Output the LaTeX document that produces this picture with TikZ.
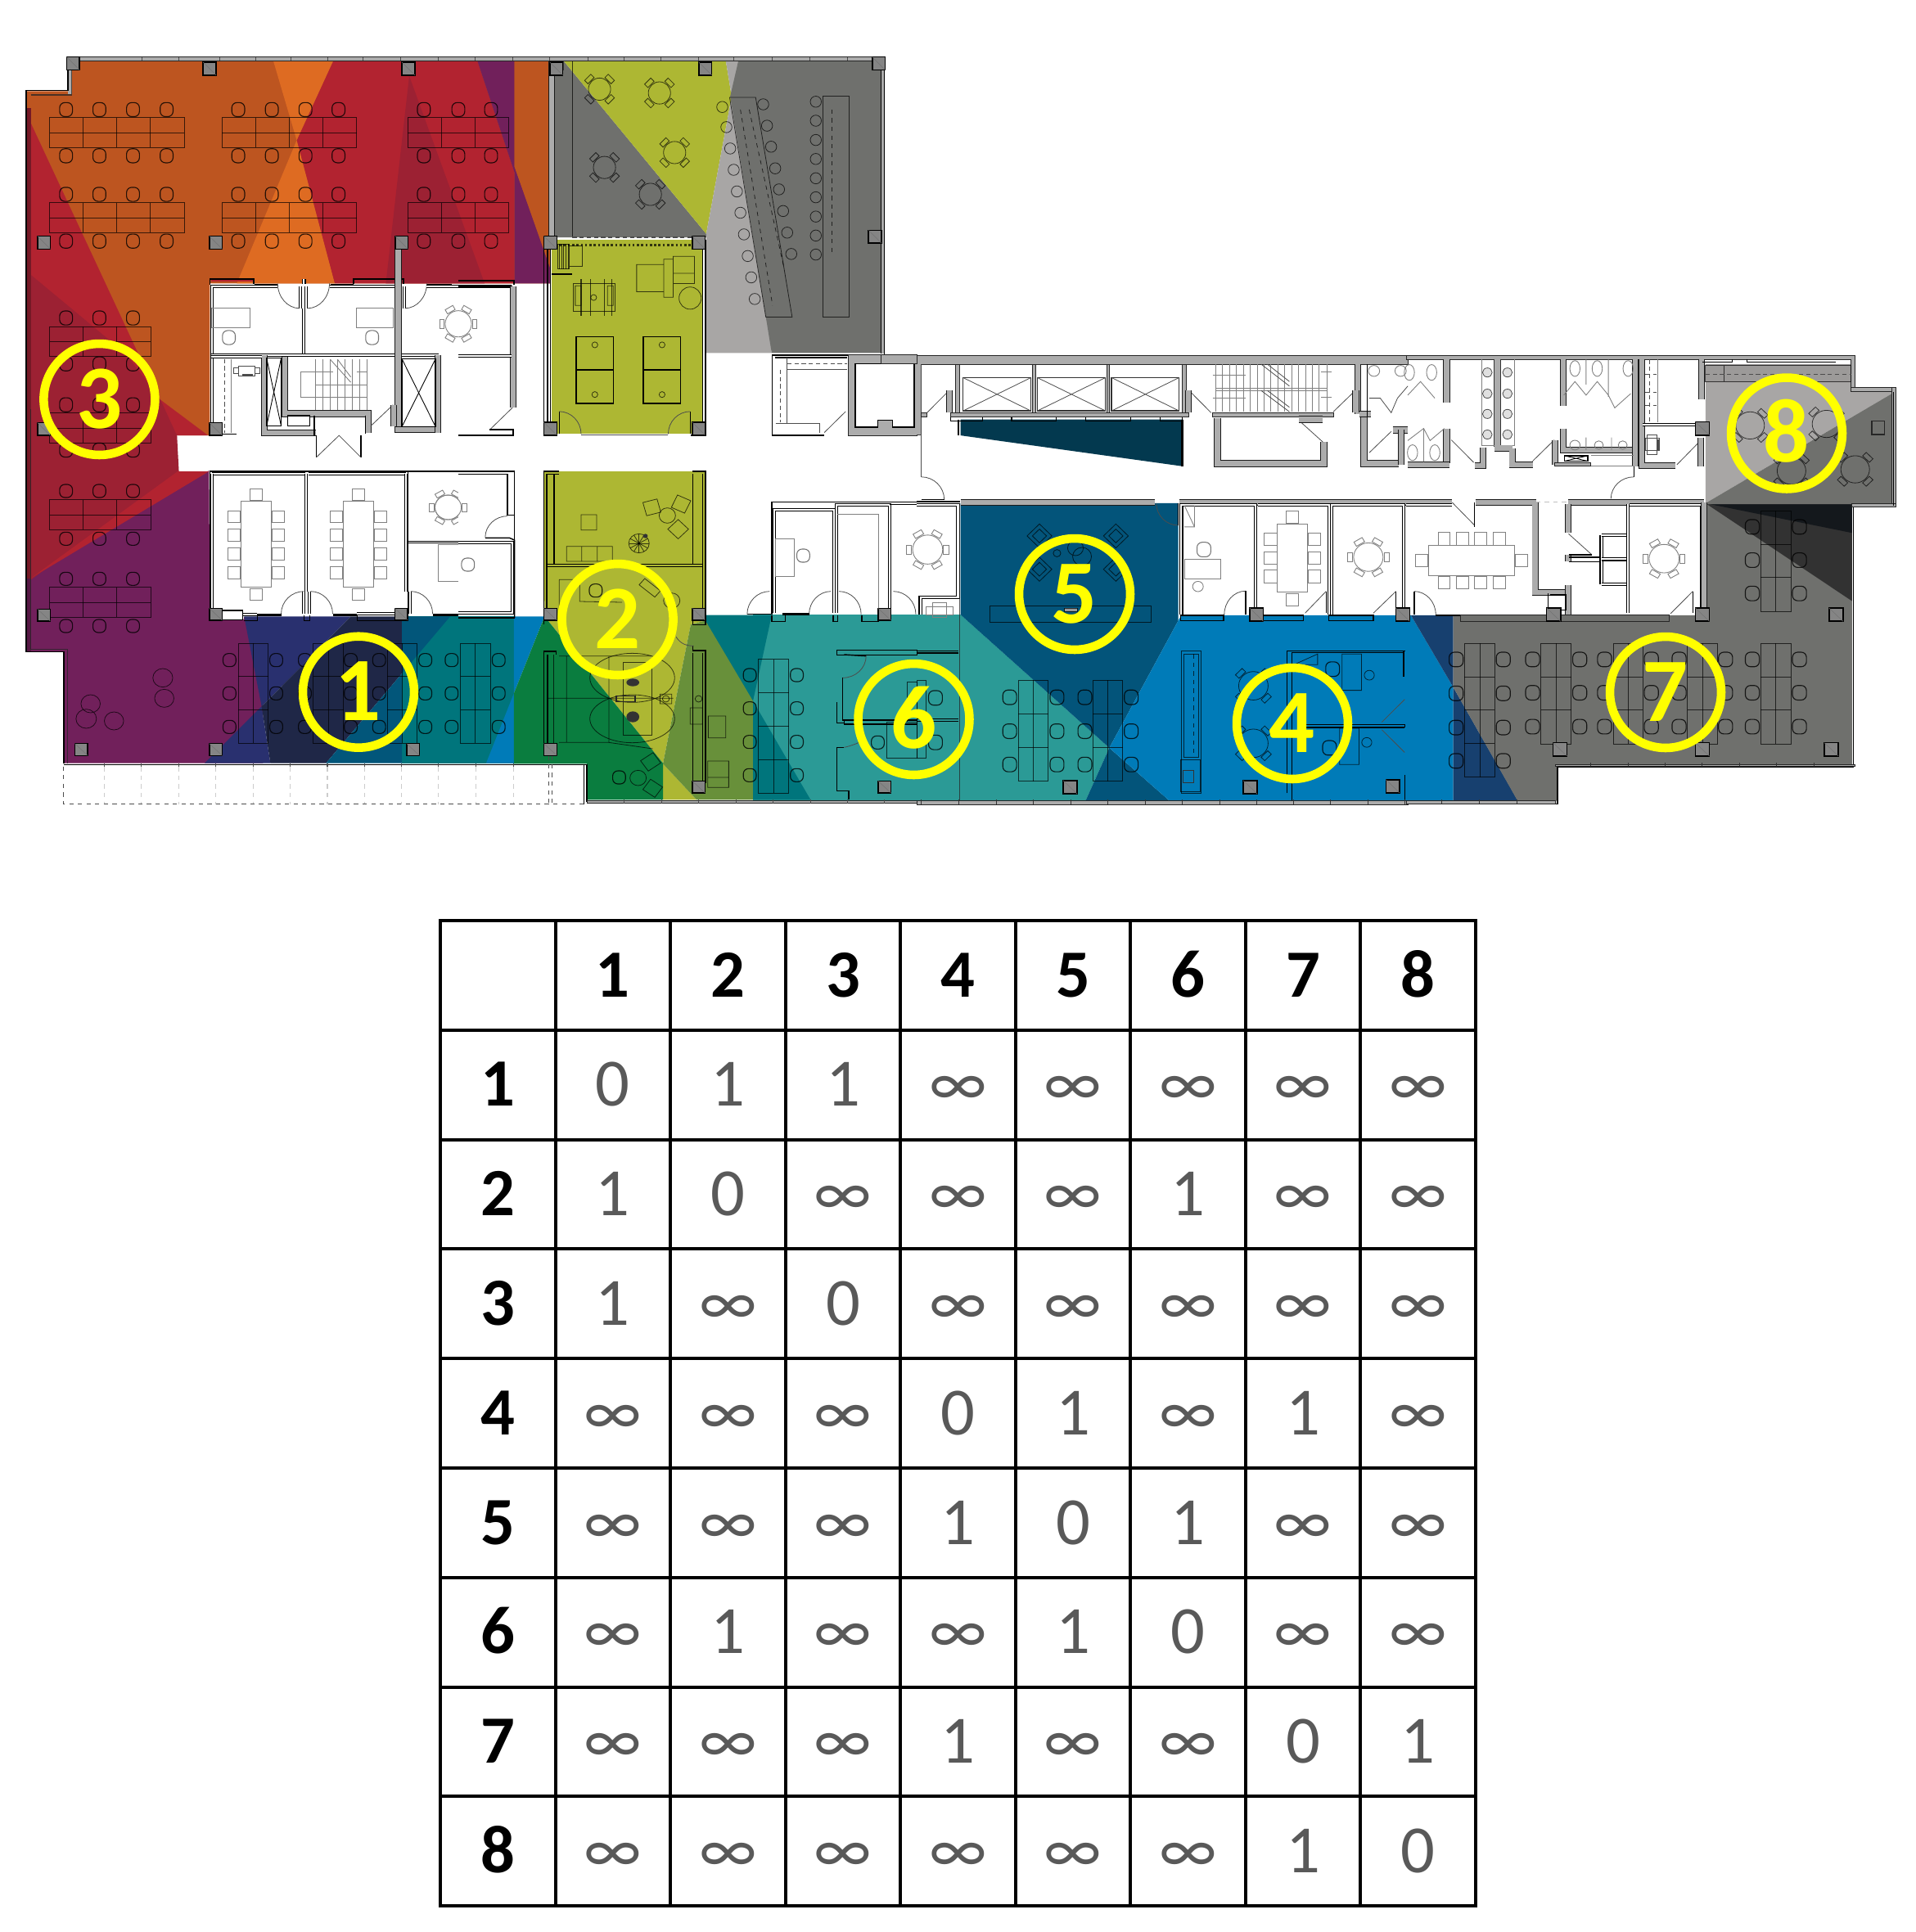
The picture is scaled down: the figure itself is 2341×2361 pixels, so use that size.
\documentclass[tikz,border=0pt]{standalone}
\usepackage{fontspec}
\setmainfont{Carlito}
\usetikzlibrary{calc}
\definecolor{orA}{HTML}{BD5520}\definecolor{orB}{HTML}{DE6B22}
\definecolor{rdA}{HTML}{B22330}\definecolor{rdB}{HTML}{9C2133}
\definecolor{puA}{HTML}{71205B}\definecolor{nvA}{HTML}{29306F}
\definecolor{nvD}{HTML}{1F2747}\definecolor{tbA}{HTML}{02567A}
\definecolor{teA}{HTML}{00757C}\definecolor{blA}{HTML}{007BB8}
\definecolor{grA}{HTML}{0A7D3F}\definecolor{ygA}{HTML}{ADB733}
\definecolor{ogA}{HTML}{68903A}\definecolor{ltA}{HTML}{2B9A96}
\definecolor{dfA}{HTML}{03547A}\definecolor{nvB}{HTML}{17406F}
\definecolor{gyA}{HTML}{6F706D}\definecolor{gyB}{HTML}{A8A6A5}
\definecolor{gyC}{HTML}{9C9A99}\definecolor{dkA}{HTML}{323232}
\definecolor{dkB}{HTML}{14181C}\definecolor{wgA}{HTML}{03394F}
\definecolor{wallg}{HTML}{ACACAC}\definecolor{colg}{HTML}{858585}
\definecolor{valg}{HTML}{595959}\definecolor{ringy}{HTML}{FFFF00}
\tikzset{
 fa/.style={shift={(0,50)},xscale=.35714,yscale=.35714},
 fb/.style={shift={(560,50)},xscale=.35714,yscale=.35714},
 fc/.style={shift={(0,500)},xscale=.35714,yscale=.33333},
 fd/.style={shift={(560,500)},xscale=.35714,yscale=.33333},
 fe/.style={shift={(1120,420)},xscale=.3827,yscale=.36996},
 ff/.style={shift={(1720,420)},xscale=.3891,yscale=.36996},
 ln/.style={draw=black!70,line width=.45pt},
 lgr/.style={draw=black!50,line width=.5pt},
 dkl/.style={draw=black!85,line width=.45pt,draw opacity=.75},
 blk/.style={draw=black,line width=.8pt},
 hv/.style={draw=black,line width=1.4pt},
 dbl/.style={draw=black,line width=.6pt,double=white,double distance=1.2pt},
 gw/.style={draw=black!90,line width=.55pt,double=wallg,double distance=3.6pt},
 wfill/.style={draw=black!85,line width=.55pt,fill=wallg},
 chS/.style={draw=black,draw opacity=.8,line width=.65pt,rounded corners=3.6pt},
 gcS/.style={draw=black!55,line width=.6pt,rounded corners=3.6pt},
 cS/.style={draw=black,line width=.9pt,fill=colg},
 thn/.style={draw=black,draw opacity=.7,line width=.45pt},
 sep/.style={draw=black!70,line width=.4pt,dash pattern=on 3pt off 2pt},
 ring/.style={circle,draw=ringy,line width=6pt,minimum size=2.72cm,inner sep=0pt,text=ringy,
   font=\fontsize{63}{63}\selectfont\bfseries,text height=40pt,text depth=0pt},
 hdcell/.style={inner sep=0pt,text=black,font=\fontsize{47}{47}\selectfont\bfseries,text height=29.8pt,text depth=0pt},
 valcell/.style={inner sep=0pt,text=valg,font=\fontsize{47}{47}\selectfont,text height=29.8pt,text depth=0pt},
 tabl/.style={draw=black,line width=2.3pt,line cap=rect}
}
\newcommand\cln[2]{\draw[cS] (#1-22,#2-22) rectangle (#1+22,#2+22); \draw[black!55,line width=.3pt] (#1-22,#2-22)--(#1+22,#2+22);}
\newcommand\chx[2]{\draw[chS] (#1-22,#2-24) rectangle (#1+22,#2+24);}
\newcommand\gch[2]{\draw[gcS] (#1-22,#2-24) rectangle (#1+22,#2+24);}
\newcommand\sqc[4]{\draw[lgr] (#1,#2) rectangle (#3,#4);}
\newcommand\rtab[5]{\begin{scope}[shift={(#1,#2)}]\draw[#5] (0,0) circle[radius=#3];
  \foreach \aa in {#4}{\draw[#5,rotate=\aa] (#3+3,-15) rectangle (#3+19,15);}\end{scope}}
\newcommand\dr[3]{\draw[ln] (#1) .. controls ($(#1)!.55!(#2)$) and ($(#3)!.55!(#2)$) .. (#3);}
\newcommand\deskg[6]{\draw[thn] (#1,#2) rectangle (#3,#4);
  \foreach \vv in {#5}{\draw[thn] (\vv,#2)--(\vv,#4);}\foreach \hh in {#6}{\draw[thn] (#1,\hh)--(#3,\hh);}}
\begin{document}
\begin{tikzpicture}[x=0.02cm,y=-0.02cm]
\useasboundingbox (0,0) rectangle (2341,2361);
\fill[white] (0,0) rectangle (2341,2361);
% ---------- north-west zone
\begin{scope}[fa]
\fill[orA] (90,172)--(235,172)--(235,68)--(1883,68)--(1883,830)--(718,830)--(718,1350)--(90,1350)--cycle;
\fill[rdA] (1140,68)--(1633,68)--(1760,450)--(1760,830)--(1145,830)--(1015,340)--cycle;
\fill[orB] (935,68)--(1140,68)--(1015,340)--cycle;
\fill[orB] (1015,340)--(1145,830)--(810,830)--cycle;
\fill[rdB] (1400,120)--(1658,830)--(1320,830)--cycle;
\fill[puA] (1633,68)--(1760,68)--(1760,430)--(1883,775)--(1883,830)--(1760,830)--(1760,450)--cycle;
\fill[rdA] (105,280)--(545,1225)--(712,1350)--(605,1350)--(105,1350)--cycle;
\fill[rdB] (105,800)--(430,1070)--(550,1230)--(605,1350)--(605,1470)--(105,1470)--cycle;
\fill[rdB!75!black] (90,230)--(105,230)--(105,1470)--(90,1470)--cycle;
\end{scope}
\begin{scope}[fc]
\fill[puA] (105,615)--(715,225)--(718,770)--(835,770)--(835,762)--(900,762)--(900,1298)--(220,1298)--(220,890)--(90,890)--(90,615)--cycle;
\fill[puA!75!black] (90,610)--(105,610)--(105,890)--(90,890)--cycle;
\fill[rdB] (105,90)--(605,90)--(612,228)--(105,626)--cycle;
\fill[rdB!75!black] (90,90)--(105,90)--(105,620)--(90,620)--cycle;
\fill[rdA] (608,228)--(715,228)--(105,620)--cycle;
\fill[teA] (1375,760)--(1758,760)--(1758,1298)--(1375,1298)--cycle;
\fill[nvA] (835,760)--(1200,760)--(895,1090)--cycle;
\fill[nvA] (895,1090)--(700,1298)--(925,1298)--cycle;
\fill[nvD] (1200,760)--(1375,760)--(1375,969)--(1115,1298)--(925,1298)--(895,1090)--cycle;
\fill[tbA] (1375,760)--(1540,760)--(1375,969)--cycle;
\fill[tbA] (1375,969)--(1115,1298)--(1375,1298)--cycle;
\end{scope}
% ---------- centre zones
\begin{scope}[fb]
\fill[orA] (192,68)--(315,68)--(315,780)--(192,430)--cycle;
\fill[gyA] (330,68)--(360,68)--(848,660)--(848,672)--(330,672)--cycle;
\fill[ygA] (360,68)--(915,68)--(935,190)--(848,660)--cycle;
\fill[gyB] (915,68)--(958,68)--(1072,1068)--(848,1068)--(848,660)--(935,190)--cycle;
\fill[gyA] (958,68)--(1445,68)--(1445,1068)--(1072,1068)--(930,190)--cycle;
\fill[ygA] (320,680)--(838,680)--(838,1345)--(320,1345)--cycle;
\end{scope}
\fill[ltA] (920,751)--(1173.6,751)--(1355.4,913.9)--(1326.7,977.9)--(920,977.9)--cycle;
\begin{scope}[fd]
\fill[ygA] (292,228)--(845,228)--(845,775)--(795,790)--(700,1300)--(815,1432)--(700,1432)--(700,1298)--(295,760)--cycle;
\fill[blA] (190,760)--(295,760)--(190,1042)--cycle;
\fill[blA] (190,1042)--(190,1298)--(95,1298)--cycle;
\fill[grA] (295,760)--(700,1298)--(700,1432)--(440,1432)--(440,1300)--(190,1300)--(190,1042)--cycle;
\fill[teA] (845,755)--(1072,755)--(1008,1070)--(960,1100)--(845,800)--cycle;
\fill[ogA] (845,775)--(1008,1070)--(1008,1432)--(815,1432)--(700,1300)--(795,790)--cycle;
\fill[teA] (1008,1070)--(1205,1432)--(1008,1432)--cycle;
\end{scope}
\begin{scope}[fe]
\fill[dfA] (140,527)--(835,527)--(835,915)--(615,1335)--(140,895)--cycle;
\fill[dfA] (615,1335)--(805,1508)--(540,1508)--cycle;
\fill[blA] (835,915)--(845,897)--(1568,897)--(1568,1508)--(805,1508)--(615,1335)--cycle;
\fill[wgA] (140,250)--(850,250)--(850,405)--(140,303)--cycle;
\end{scope}
\begin{scope}[ff]
\fill[blA] (-5,897)--(10,897)--(143,1135)--(143,1508)--(-5,1508)--cycle;
\fill[nvB] (10,897)--(143,897)--(143,1135)--cycle;
\fill[nvB] (143,1135)--(345,1508)--(143,1508)--cycle;
\fill[gyA] (143,897)--(935,897)--(935,527)--(1395,527)--(1395,1390)--(470,1390)--(470,1510)--(345,1510)--(143,1135)--cycle;
\fill[dkA] (935,527)--(1395,527)--(1395,850)--cycle;
\fill[dkB] (935,527)--(1395,527)--(1395,625)--cycle;
\fill[gyB] (935,68)--(1395,68)--(1395,150)--(1520,150)--(1520,165)--(935,527)--cycle;
\fill[gyC] (935,68)--(1395,68)--(1395,125)--(935,125)--cycle;
\fill[gyA] (935,527)--(1520,165)--(1520,530)--(935,530)--cycle;
\end{scope}
% ---------- crop A details
\begin{scope}[fa]
\draw[wfill] (230,55) rectangle (3026,68);
\foreach \tt in {485,610,750,875,995,1120,1240,1370,1500,1625,1755,1880,2010,2135,2260,2390,2510,2640,2770,2900}{\draw[black!70,line width=.4pt] (\tt,55)--(\tt,68);}
\fill[wallg] (232,68) rectangle (245,182);
\draw[blk] (232,68)--(232,170)--(90,170)--(90,1470);
\draw[dkl,line width=.7pt] (105,185)--(245,185)--(245,70);
\deskg{170}{262}{630}{365}{285,400,514}{315}
\deskg{170}{553}{630}{655}{285,400,514}{605}
\deskg{760}{262}{1220}{365}{875,990,1105}{315}
\deskg{760}{553}{1220}{655}{875,990,1105}{605}
\deskg{1395}{262}{1740}{365}{1510,1625}{315}
\deskg{1395}{553}{1740}{655}{1510,1625}{605}
\deskg{170}{977}{515}{1080}{285,400}{1028}
\deskg{170}{1272}{515}{1375}{285,400}{1325}
\foreach \x in {226,340,455,570,815,930,1045,1158,1450,1568,1680}\foreach \y in {235,393,525,685}{\chx{\x}{\y}}
\foreach \x in {226,340,455}\foreach \y in {948,1105,1245,1400}{\chx{\x}{\y}}
% offices
\fill[white] (720,832) rectangle (1750,1345);
\draw[rdA,line width=1pt] (722,820)--(866,820);
\draw[blk] (718,835)--(718,815)--(868,815)--(868,832);
\draw[hv] (870,834)--(950,834) (1130,834)--(1210,834) (1460,834)--(1545,834);
\draw[blk] (1210,832)--(1210,815)--(1380,815)--(1380,832);
\draw[dbl] (725,1340)--(725,840)--(950,840);
\draw[dbl] (1127,840)--(1350,840);
\draw[dbl] (1038,915)--(1038,1072);
\draw[dbl] (1028,840)--(1028,915);
\draw[dbl] (1048,840)--(1048,915);
\draw[dbl] (1040,815)--(1040,832);
\draw[dbl] (1383,840)--(1383,915);
\dr{950,830}{950,915}{1025,915}
\dr{1127,830}{1127,915}{1052,915}
\dr{1460,830}{1460,915}{1385,915}
\sqc{725}{915}{855}{982}\gch{783}{1015}
\sqc{1218}{915}{1345}{982}\gch{1273}{1015}
\draw[dbl] (722,1075)--(1350,1075);
\draw[gw] (1362,700)--(1362,1340);
\draw[dbl] (1375,1075)--(1500,1075);
\draw[dbl] (1460,840)--(1750,840);
\rtab{1568}{968}{45}{0,60,120,180,240,300}{lgr}
\draw[gw] (905,1075)--(905,1342)--(1080,1342);
\draw[gw] (975,1080)--(975,1275)--(1260,1275)--(1260,1342);
\draw[blk,fill=white] (985,1282) rectangle (1060,1318);
\draw[blk] (1075,1282)--(1075,1350) (1082,1350)--(1082,1425) (1235,1350)--(1235,1425) (1250,1282)--(1250,1345);
\draw[ln] (1082,1425)--(1160,1350)--(1235,1425);
\draw[ln] (1268,1318)--(1345,1245);
\draw[gw] (1347,1245)--(1347,1318);
\draw[blk] (912,1085) rectangle (962,1318);
\draw[blk,line width=.5pt] (912,1085)--(962,1318) (962,1085)--(912,1318);
\foreach \x in {1080,1105,1130,1155,1180,1205,1230,1255}{\draw[lgr] (\x,1090)--(\x,1262);}
\draw[lgr] (1078,1178)--(1258,1178);
\draw[lgr] (1030,1132)--(1140,1132) (1030,1132)--(1030,1218)--(1258,1218) (1220,1132)--(1258,1132);
\draw[lgr] (1130,1090)--(1200,1168) (1155,1090)--(1200,1150);
\draw[dbl] (722,1080)--(897,1080);
\draw[sep] (767,1088)--(767,1340);
\draw[lgr] (790,1088)--(790,1340);
\draw[blk] (762,1345)--(808,1345);
\draw[ln] (815,1112) rectangle (872,1145) (800,1118) rectangle (815,1138) (872,1118) rectangle (888,1138);
\fill[black!70] (830,1140) rectangle (865,1148);
\draw[gw] (1352,1330)--(1498,1330);
\draw[gw] (1498,1075)--(1498,1342);
\draw[blk] (1375,1088) rectangle (1490,1320);
\draw[blk,line width=.5pt] (1375,1088)--(1490,1320) (1490,1088)--(1375,1320);
\cln{250}{77}\cln{717}{95}\cln{1397}{95}\cln{150}{690}\cln{738}{690}\cln{1374}{690}\cln{150}{1328}\cln{738}{1328}
\end{scope}
% ---------- crop B details
\begin{scope}[fb]
\draw[blk] (185,840)--(0,840);
\draw[gw] (188,840)--(188,1255);
\draw[dbl] (0,1078)--(183,1078);
\draw[ln] (108,1330)--(185,1255);
\draw[blk] (105,1330)--(188,1330)--(188,1350)--(0,1350);
\draw[blk] (0,820)--(190,820)--(190,835);
\draw[thn] (390,70)--(390,670);
\draw[dkl] (360,70)--(360,100);
\draw[blk] (292,680)--(292,1350)--(340,1350);
\draw[blk] (305,680)--(305,1340);
\draw[gw] (320,70)--(320,670);
\draw[blk] (315,680)--(315,1345);
\draw[blk] (845,680)--(845,1350)--(795,1350);
\draw[blk] (835,700)--(835,1340);
\draw[blk] (345,1268)--(345,1345) (793,1268)--(793,1345);
\dr{345,1268}{420,1268}{420,1345}
\dr{793,1268}{718,1268}{718,1345}
\draw[ln] (420,1347)--(718,1347);
\draw[sep,line width=.7pt] (390,672)--(845,672);
\draw[thn,dash pattern=on 1.5pt off 1.5pt,line width=1.4pt] (345,698)--(800,698);
\foreach \x in {345,353,361,369,377}{\draw[thn,line width=.6pt] (\x,695)--(\x,780);}
\draw[thn] (340,695) rectangle (380,780) (380,700) rectangle (425,772);
\draw[blk] (320,798)--(390,798);
\deskg{393}{830}{537}{925}{}{}
\foreach \x in {420,452,500,525}{\draw[thn,line width=.6pt] (\x,815)--(\x,940);}
\draw[thn] (400,838) rectangle (420,905) (510,838) rectangle (530,905) (463,878) circle[radius=10];
\draw[blk] (403,1012) rectangle (530,1240) (403,1125)--(530,1125) (633,1012) rectangle (760,1240) (633,1125)--(760,1125);
\foreach \x in {467,697}{\foreach \y in {1040,1210}{\draw[thn] (\x,\y) circle[radius=10];}}
\draw[thn] (610,765) rectangle (703,858) (703,747) rectangle (735,877) (735,737) rectangle (808,795) (735,795) rectangle (808,830) (793,880) circle[radius=38];
\rtab{483}{165}{38}{45,135,225,315}{thn}
\rtab{688}{178}{38}{45,135,225,315}{thn}
\rtab{740}{382}{38}{45,135,225,315}{thn}
\rtab{500}{433}{38}{45,135,225,315}{thn}
\rtab{657}{525}{38}{45,135,225,315}{thn}
\draw[thn] (928,193)--(1017,193)--(1142,945)--(1052,945)--cycle;
\draw[thn,dashed] (965,235)--(1075,905) (995,235)--(1112,767);
\draw[thn] (1247,190) rectangle (1336,945);
\draw[thn,dashed] (1278,235)--(1278,725);
\foreach \x/\y in {903/226,917/295,930/368,942/441,953/515,965/588,977/662,990/736,1002/809,1014/883,1043/217,1056/290,1070/362,1084/436,1097/508,1111/582,1125/656,1139/729,1223/208,1223/273,1223/339,1223/404,1223/470,1223/535,1223/601,1223/666,1223/731}{\draw[thn] (\x,\y) circle[radius=19];}
\draw[blk,line width=.6pt] (1447,70)--(1447,1070) (1458,55)--(1458,1075);
\fill[wallg] (1448,70) rectangle (1457,1070);
% service rooms
\draw[blk] (1073,1350)--(1073,1075)--(1335,1075);
\draw[blk] (1073,1350)--(1252,1350);
\draw[blk] (1083,1083)--(1330,1083);
\draw[ln] (1125,1083)--(1125,1310);
\draw[ln] (1085,1310)--(1235,1310)--(1235,1340);
\draw[sep] (1100,1125)--(1100,1305) (1125,1103)--(1330,1103);
\draw[ln] (1125,1125)--(1330,1125);
\draw[ln] (1252,1340)--(1325,1268);
\draw[wfill] (1335,1075) rectangle (1568,1350);
\draw[blk,fill=white] (1358,1105)--(1560,1105)--(1560,1322)--(1485,1322)--(1485,1298)--(1435,1298)--(1435,1322)--(1358,1322)--cycle;
\draw[wfill] (1445,1075)--(1568,1075)--(1568,1105)--(1445,1105)--cycle;
\cln{335}{95}\cln{845}{95}\cln{1438}{77}\cln{1425}{670}\cln{315}{690}\cln{822}{690}\cln{315}{1327}\cln{822}{1327}
\end{scope}
% ---------- crop C details
\begin{scope}[fc]
\draw[blk] (90,0)--(90,890)--(218,890)--(218,1300);
\draw[dkl,line width=.7pt] (105,0)--(105,880)--(230,880)--(230,1298);
\deskg{170}{332}{515}{442}{285,400}{387}
\deskg{170}{653}{515}{763}{285,400}{708}
\foreach \x in {226,340,455}\foreach \y in {300,475,622,795}{\chx{\x}{\y}}
\draw[thn] (310,1080) circle[radius=33] (295,1135) circle[radius=35] (390,1143) circle[radius=33] (557,985) circle[radius=34] (562,1060) circle[radius=33];
\deskg{815}{858}{917}{1225}{866}{980,1103}
\deskg{1072}{858}{1175}{1225}{1123}{980,1103}
\deskg{1325}{858}{1427}{1225}{1376}{980,1103}
\foreach \x in {785,945,1043,1200,1297,1455,1545}\foreach \y in {920,1042,1165}{\chx{\x}{\y}}
\draw[blk] (718,228)--(1758,228);
\draw[blk] (718,228)--(718,770);
\draw[dbl] (725,238)--(1045,238);
\draw[dbl] (1055,238)--(1388,238);
\draw[dbl] (725,238)--(725,750);
\draw[dbl] (1047,238)--(1047,668);
\draw[dbl] (1389,238)--(1389,668);
\draw[dbl] (1038,668)--(1038,750);
\draw[dbl] (1058,668)--(1058,750);
\draw[dbl] (1402,668)--(1402,750);
\foreach \xx in {825,1175}{
 \draw[lgr] (\xx,338) rectangle (\xx+102,652) (\xx+30,292) rectangle (\xx+72,335) (\xx+30,658) rectangle (\xx+72,700);
 \foreach \y in {372,440,508,577}{\draw[lgr] (\xx-45,\y) rectangle (\xx-3,\y+44) (\xx+105,\y) rectangle (\xx+147,\y+44);}}
\rtab{1533}{360}{45}{0,60,120,180,240,300}{lgr}
\sqc{1498}{495}{1568}{630}
\dr{962,750}{962,668}{1040,668}
\dr{1138,750}{1138,668}{1062,668}
\dr{1480,750}{1480,668}{1405,668}
\draw[hv] (880,754)--(962,754) (1140,754)--(1220,754) (1480,754)--(1568,754);
\draw[dbl] (725,752)--(880,752);
\draw[dbl] (1222,750)--(1350,750);
\draw[blk] (880,755)--(880,775)--(835,775) (1222,755)--(1222,775)--(1350,775) (1040,755)--(1040,775)--(1060,775)--(1060,755);
\draw[blk] (1395,230)--(1395,750) (1395,485)--(1568,485) (1395,490)--(1568,490);
\draw[blk,fill=white] (760,738) rectangle (830,772);
\cln{150}{755}\cln{278}{1248}\cln{738}{1248}\cln{1413}{1248}\cln{738}{752}\cln{1373}{752}
% south edge & balcony
\draw[blk] (218,1303)--(1568,1303);
\foreach \tt in {358,484,612,738,866,992,1120,1247,1374,1500}{\draw[black!70,line width=.6pt] (\tt,1300)--(\tt,1312);\draw[black!20,dashed,line width=.6pt] (\tt,1312)--(\tt,1448);}
\draw[dashed,black!70,line width=.6pt] (218,1310)--(218,1448)--(1568,1448);
\end{scope}
% ---------- crop D details
\begin{scope}[fd]
\deskg{7}{858}{110}{1225}{58}{980,1103}
\foreach \y in {920,1042,1165}{\chx{138}{\y}}
\draw[blk] (0,765)--(192,765)--(192,228)--(0,228);
\fill[white] (0,240) rectangle (190,748);
\draw[blk] (0,238)--(168,238)--(168,388)--(192,388)--(192,228)--(0,228);
\dr{92,470}{92,392}{168,392}
\draw[blk] (92,472)--(175,472)--(192,480)--(192,765);
\draw[dbl] (0,490)--(185,490)--(185,748)--(0,748);
\gch{33}{570}
\rtab{-35}{360}{45}{0}{lgr}
% upper lounge
\draw[blk] (345,228)--(292,228)--(292,790) (345,238)--(302,238)--(302,770)--(328,770);
\draw[blk] (328,238)--(328,568);
\draw[blk] (802,228)--(845,228)--(845,770) (802,238)--(802,568) (835,238)--(835,770) (802,770)--(802,790)--(845,790)--(845,770);
\draw[blk] (302,568)--(835,568) (302,578)--(835,578);
\draw[thn] (370,503) rectangle (527,558) (422,503)--(422,558) (475,503)--(475,558) (420,387) rectangle (473,443) (715,390) circle[radius=28];
\foreach \x/\y/\aa in {662/360/15,762/348/-25,752/440/-45}{\draw[thn,rotate around={\aa:(\x,\y)}] (\x-25,\y-25) rectangle (\x+25,\y+25);}
\draw[thn] (618,492) circle[radius=35];
\foreach \aa in {0,30,...,330}{\draw[thn] (618,492)--+(\aa:34);}
\fill[black!80] (640,465) circle[radius=8];
\draw[thn] (345,625)--(345,770) (345,625)--(415,625) (415,625)--(415,705)--(560,708);
\chx{470}{665}
\draw[thn,rotate around={-40:(655,655)}] (620,640) rectangle (690,670);
\draw[thn] (730,702) circle[radius=28];
% conference / lounge below
\draw[blk] (335,888)--(292,888)--(292,1270)--(335,1270)--(335,1230) (305,900)--(305,1230);
\draw[blk] (335,888)--(335,900);
\draw[blk] (802,868)--(802,885)--(845,885)--(845,1370) (835,895)--(835,1365) (802,895)--(802,1365);
\draw[ln] (745,835) .. controls (760,860) and (780,868) .. (805,868);
\draw[thn] (345,905)--(660,905) (345,1222)--(515,1222)--(665,1245) (370,905)--(370,1220) (515,905)--(515,1220) (305,1060)--(735,1060);
\draw[thn] (595,985) circle[x radius=145,y radius=90] (595,1135) circle[x radius=145,y radius=88];
\draw[thn] (563,928) rectangle (663,1195);
\draw[thn] (325,900)--(325,1230);
\fill[black!80] (597,1002) ellipse[x radius=22,y radius=14] (597,1128) ellipse[x radius=22,y radius=20];
\draw[black!85,line width=.9pt] (540,1052) rectangle (605,1072);
\draw[thn] (690,1045) rectangle (730,1080) (710,1062) circle[radius=12] (822,1062) circle[radius=12] (793,1095) rectangle (835,1155) (855,1125) rectangle (915,1205) (853,1290) rectangle (925,1387) (853,1350)--(925,1350);
\draw[thn] (615,1352) circle[radius=28];
\chx{550}{1350}
\draw[thn,rotate around={35:(658,1293)}] (632,1270) rectangle (684,1316);
\draw[thn,rotate around={-35:(665,1390)}] (640,1367) rectangle (690,1413);
\deskg{1027}{917}{1130}{1408}{1078}{1040,1162,1285}
\foreach \y in {975,1097,1220,1342}{\chx{997}{\y}\chx{1158}{\y}}
% offices north of 6
\draw[blk] (988,752)--(1072,752)--(1072,340)--(1568,340);
\draw[dbl] (1080,748)--(1080,368)--(1285,368)--(1285,748);
\draw[dbl] (1293,748)--(1293,350)--(1475,350)--(1475,748);
\draw[lgr] (1295,385)--(1438,385)--(1438,730);
\draw[blk] (1475,350)--(1568,350);
\sqc{1085}{475}{1150}{612}\gch{1180}{537}
\dr{988,752}{988,668}{1065,668}
\dr{1200,752}{1200,668}{1275,668}
\dr{1378,752}{1378,668}{1302,668}
\dr{1565,752}{1565,668}{1488,668}
\draw[hv] (1110,752)--(1200,752);
\draw[blk] (1072,755)--(1072,778)--(1118,778)--(1118,755) (1282,755)--(1282,778)--(1298,778)--(1298,755) (1380,755)--(1380,778)--(1440,778) (1480,755)--(1480,778);
% room 6 walls
\draw[blk] (1295,885) rectangle (1568,900);
\fill[ltA] (1296,886) rectangle (1567,899);
\draw[blk] (1320,900)--(1395,905);
\dr{1395,905}{1395,985}{1315,985}
\draw[blk] (1315,985)--(1315,1140)--(1568,1140) (1295,1075)--(1295,1150)--(1320,1150)--(1320,1140) (1320,1155)--(1568,1155) (1295,1240)--(1295,1400)--(1335,1400)--(1335,1432) (1320,1240)--(1295,1240);
\dr{1375,1220}{1345,1235}{1320,1240}
\chx{1435}{1222}
\draw[thn] (1465,1148) rectangle (1568,1280) (1535,1000) rectangle (1568,1148);
% south edge
\draw[blk] (0,1303)--(440,1303)--(440,1438)--(1568,1438);
\draw[blk] (430,1303)--(430,1448);
\draw[wfill] (440,1434) rectangle (1568,1444);
\foreach \tt in {568,695,823,950,1077,1205,1332,1458}{\draw[black!70,line width=.6pt] (\tt,1432)--(\tt,1446);}
\foreach \tt in {60,190}{\draw[black!70,line width=.6pt] (\tt,1300)--(\tt,1312);\draw[black!20,dashed,line width=.6pt] (\tt,1312)--(\tt,1448);}
\draw[dashed,black!70,line width=.6pt] (0,1448)--(430,1448);
\draw[black!70,line width=.6pt,dashed] (310,1270)--(310,1448) (320,1270)--(320,1448);
\cln{315}{752}\cln{822}{752}\cln{315}{1248}\cln{822}{1385}\cln{1458}{752}\cln{1458}{1385}
\end{scope}
% ---------- crop E details
\begin{scope}[fe]
\draw[wfill] (0,38) rectangle (1568,68);
\fill[wallg] (0,68) rectangle (15,300);
\draw[black!75,line width=.5pt] (15,68)--(15,300)--(0,300);
\foreach \xl/\xr in {125/138,370/380,607/615,848/862}{\draw[wfill] (\xl,68) rectangle (\xr,232);}
\draw[wfill] (108,228) rectangle (870,243);
\foreach \xl/\xr in {148/365,385/603,622/838}{\draw[black!80,line width=.8pt] (\xl,112) rectangle (\xr,222);\draw[ln] (\xl,112)--(\xr,222) (\xr,112)--(\xl,222);}
\foreach \xl/\xr in {108/210,303/445,540/683,778/848}{\draw[blk] (\xl,243)--(\xl,255)--(\xr,255)--(\xr,243);}
\draw[blk] (133,250)--(133,303);
\draw[hv] (848,250)--(848,405);
\draw[ln] (33,228)--(103,155);
\draw[gw] (104,155)--(104,228);
\draw[wfill] (15,228) rectangle (33,242);
\draw[ln] (15,300)--(15,440);
\dr{15,440}{88,440}{88,515}
\draw[blk] (15,515)--(88,515);
\draw[ln] (870,155)--(940,228);
\draw[gw] (867,155)--(867,228);
\foreach \x in {955,977,999,1021,1043,1065,1087,1109,1131,1153,1175,1197,1219,1241,1263,1285,1310}{\draw[lgr] (\x,68)--(\x,225);}
\draw[lgr] (955,148)--(1310,148) (955,156)--(1310,156);
\draw[lgr] (945,105)--(1050,105) (945,180)--(1050,180) (1290,92)--(1325,92) (1290,178)--(1325,178);
\draw[ln] (1100,68)--(1190,140) (1120,68)--(1190,125) (1100,155)--(1190,225) (1120,155)--(1190,210);
\draw[ln] (1330,225)--(1400,155);
\draw[gw] (1408,68)--(1408,232);
\draw[gw] (1402,155)--(1402,228);
\draw[wfill] (945,228) rectangle (1330,243);
\draw[gw] (960,245)--(960,396)--(1300,396)--(1300,325);
\draw[ln] (1222,255)--(1297,325);
\draw[gw] (1220,250)--(1295,250);
\draw[gw] (1428,240)--(1428,396)--(1540,396);
\draw[ln] (1445,360)--(1515,290);
\draw[gw] (1520,285)--(1568,285);
\draw[gw] (1546,285)--(1546,400);
\draw[gw] (1414,232)--(1450,232);
\draw[ln] (1445,180)--(1480,180)--(1515,228)--(1535,180)--(1568,140);
\draw[lgr] (1460,90) circle[radius=18] (1545,90) circle[radius=18];
% corridor south line
\draw[blk] (0,522)--(138,522);
\draw[gw] (140,525)--(760,525);
\draw[gw] (840,525)--(1568,525);
\draw[dbl] (0,532)--(132,532)--(132,838)--(12,838)--(12,895);
\draw[dkl] (138,530)--(138,1508);
\draw[blk] (835,527)--(835,600);
\dr{765,527}{765,600}{835,600}
\rtab{35}{680}{48}{0,60,120,180,240,300}{lgr}
\draw[lgr] (30,868) rectangle (115,895) (50,855) rectangle (95,905);
\foreach \xx/\yy in {392/635,636/635,392/745,636/745}{\draw[thn,rotate around={45:(\xx,\yy)}] (\xx-28,\yy-28) rectangle (\xx+28,\yy+28) (\xx-16,\yy-16) rectangle (\xx+16,\yy+16);}
\draw[thn] (448,692) circle[radius=12] (507,675) circle[radius=25] (528,703) circle[radius=30];
\draw[thn] (233,867) rectangle (748,920);
\draw[thn,fill=black!40] (472,873) rectangle (512,885);
% rooms
\draw[dbl] (845,895)--(845,532)--(1082,532)--(1082,895);
\draw[dbl] (1090,532)--(1317,532)--(1317,895);
\draw[dbl] (1325,895)--(1325,532)--(1555,532)--(1555,895);
\dr{982,895}{982,817}{1050,817}
\draw[blk] (1050,817)--(1050,895);
\draw[ln] (1240,890)--(1307,818);
\draw[blk] (1307,818)--(1307,890);
\draw[ln] (1458,890)--(1530,818);
\draw[blk] (1530,818)--(1530,890);
\foreach \xl/\xr in {843/980,1105/1235,1315/1458}{\draw[blk,fill=blA] (\xl,897) rectangle (\xr,915);}
\draw[lgr] (855,535)--(887,535)--(887,605)--(855,605) (855,535)--(887,605);
\gch{917}{680}\sqc{855}{712}{970}{777}
\draw[lgr] (898,802) circle[radius=17];
\draw[lgr] (1152,595) rectangle (1247,820) (1180,552) rectangle (1220,592) (1180,825) rectangle (1220,865);
\foreach \y in {625,687,748}{\draw[lgr] (1110,\y) rectangle (1150,\y+42) (1250,\y) rectangle (1290,\y+42);}
\rtab{1442}{705}{47}{0,60,120,180,240,300}{lgr}
% room 4
\draw[thn] (845,1015) rectangle (908,1485) (852,1025) rectangle (900,1365);
\draw[thn,dashed] (885,1025)--(885,1365);
\draw[thn] (843,1375) rectangle (905,1480);
\draw[black!80,line width=.9pt] (850,1410) rectangle (885,1450);
\rtab{1075}{1130}{47}{45,135,225,315}{thn}
\rtab{1075}{1320}{47}{45,135,225,315}{thn}
\draw[blk] (1183,1485)--(1183,1015)--(1560,1015) (1198,1020)--(1558,1020) (1198,1020)--(1198,1508);
\draw[blk] (1555,1015)--(1555,1100);
\draw[ln] (1558,1175)--(1485,1250) (1485,1275)--(1558,1350);
\draw[blk] (1230,1258)--(1558,1258) (1230,1268)--(1558,1268) (1558,1258)--(1558,1268);
\draw[blk] (1558,1425)--(1558,1508);
\draw[thn] (1358,1025) rectangle (1420,1145) (1445,1095) circle[radius=16] (1350,1270) rectangle (1412,1390) (1437,1317) circle[radius=16] (1205,1060)--(1280,1060)--(1280,1025)--(1205,1060);
\chx{1328}{1075}\chx{1318}{1335}
% room 6 / 5 furniture
\draw[blk] (0,1015)--(133,1015) (0,1022)--(133,1022) (0,1240)--(133,1240) (0,1248)--(133,1248);
\chx{60}{1170}\chx{60}{1317}
\draw[thn] (0,1113) rectangle (30,1370);
\deskg{325}{1112}{420}{1445}{373}{1222,1333}
\deskg{563}{1112}{658}{1445}{610}{1222,1333}
\foreach \x in {297,448,537,685}\foreach \y in {1168,1280,1390}{\chx{\x}{\y}}
% south edge
\draw[wfill] (0,1510) rectangle (1568,1522);
\foreach \tt in {15,135,255,372,492,610,730,848,967,1085,1203,1322,1440,1558}{\draw[black!80,line width=.6pt] (\tt,1506)--(\tt,1522);}
\cln{490}{1465}\cln{1065}{1465}\cln{1520}{1462}\cln{1085}{895}\cln{1552}{895}
\draw[blk] (1438,68)--(1438,240);
\end{scope}
% ---------- crop F details
\begin{scope}[ff]
\draw[wfill] (-5,38)--(1405,38)--(1405,145)--(1392,145)--(1392,52)--(-5,52)--cycle;
\draw[wfill] (1392,145) rectangle (1530,157);
\draw[wfill] (1520,145) rectangle (1532,540);
\draw[wfill] (1395,527) rectangle (1532,540);
\draw[blk] (1400,540)--(1400,1397)--(470,1397)--(470,1520)--(-5,1520);
\draw[wfill] (-5,1510) rectangle (465,1520);
\draw[wfill] (465,1390) rectangle (1405,1397);
\foreach \tt in {107,225,342}{\draw[black!80,line width=.6pt] (\tt,1506)--(\tt,1520);}
\foreach \tt in {575,692,808,925,1042,1158,1275}{\draw[black!80,line width=.6pt] (\tt,1385)--(\tt,1397);}
% restrooms
\draw[gw] (122,52)--(122,195);
\draw[gw] (122,280)--(122,395);
\fill[wallg] (272,52) rectangle (292,340);
\draw[black!80,line width=.5pt] (272,52)--(272,340) (292,52)--(292,340);
\draw[lgr] (232,52)--(232,335)--(272,335) (335,52)--(335,335)--(295,335);
\foreach \y in {95,165,232,300}{\draw[ln,fill=black!12] (250,\y) circle[radius=15] (313,\y) circle[radius=15];}
\draw[gw] (236,342)--(236,402)--(210,402);
\draw[gw] (272,345)--(330,345);
\draw[gw] (328,345)--(328,400)--(392,400);
\draw[gw] (0,400)--(130,400);
\draw[ln] (137,318)--(207,392) (392,388)--(460,318);
\draw[gw] (462,318)--(462,400);
\draw[gw] (488,52)--(488,205);
\draw[gw] (488,282)--(488,352)--(715,352);
\draw[gw] (715,52)--(715,405);
\draw[lgr] (525,82) circle[x radius=16,y radius=26] (595,82) circle[x radius=16,y radius=26] (692,82) circle[x radius=16,y radius=26];
\draw[lgr] (560,52)--(560,135) (630,52)--(630,175) (490,170)--(525,125)--(560,170)--(595,125)--(630,170)--(650,212)--(700,165);
\draw[lgr] (525,335) circle[radius=16] (600,335) circle[radius=14] (675,335) circle[radius=14] (560,310)--(560,352) (640,310)--(640,352);
\draw[lgr] (0,170)--(40,125)--(85,180) (5,95) circle[x radius=16,y radius=26] (75,95) circle[x radius=16,y radius=26] (85,360) circle[x radius=16,y radius=26] (15,360) circle[x radius=16,y radius=26] (0,320)--(50,280)--(70,320)--(115,280) (50,280)--(50,390);
\draw[blk] (492,370) rectangle (565,388);
\draw[blk,line width=.5pt] (492,370)--(565,388) (565,370)--(492,388);
\draw[wfill] (462,392) rectangle (575,405);
\draw[lgr] (575,370)--(710,370) (575,403)--(710,403);
\draw[gw] (735,52)--(735,402)--(840,402);
\draw[dbl] (738,268)--(905,268);
\draw[lgr] (785,52)--(785,260);
\draw[sep] (760,52)--(760,260);
\draw[ln,dashed] (745,100)--(780,100) (745,160)--(780,160) (745,205)--(780,205);
\draw[gw] (922,52)--(922,185);
\draw[ln] (845,400)--(912,328);
\draw[gw] (920,310)--(920,405);
\draw[ln] (752,300) rectangle (782,365) (745,312) rectangle (790,352);
\fill[black!70] (780,315) rectangle (790,350);
\draw[blk] (710,405)--(710,440);
\dr{710,440}{638,440}{638,512}
\draw[blk] (638,515)--(712,515);
% corridor south rooms
\draw[gw] (-5,525)--(140,525);
\draw[ln] (140,525)--(210,600);
\draw[blk] (210,525)--(210,605);
\draw[gw] (212,525)--(403,525);
\draw[dbl] (-5,532)--(140,532);
\draw[gw] (400,525)--(400,822)--(500,822);
\draw[black!25,dashed,line width=.4pt] (403,522)--(500,522);
\draw[gw] (503,525)--(930,525);
\draw[gw] (503,530)--(503,625);
\draw[ln] (505,628)--(578,697);
\draw[gw] (503,697)--(503,720);
\draw[blk] (505,697)--(578,697) (505,720)--(610,720) (505,705)--(610,705);
\draw[dbl] (608,632)--(608,795);
\draw[dbl] (608,632)--(687,632);
\draw[dbl] (608,712)--(687,712);
\draw[dbl] (608,795)--(687,795);
\draw[dbl] (692,530)--(692,890);
\draw[gw] (503,797)--(503,895);
\draw[blk] (440,825)--(440,890) (447,830)--(497,830)--(497,880) (447,880)--(497,880);
\draw[dbl] (697,532)--(922,532)--(922,890);
\draw[gw] (930,525)--(930,895);
\draw[ln] (825,892)--(895,818);
\draw[blk] (895,818)--(895,890);
\rtab{805}{710}{47}{0,60,120,180,240,300}{lgr}
\draw[lgr] (65,667) rectangle (335,767) (25,697) rectangle (63,737) (338,697) rectangle (376,737);
\foreach \x in {95,153,210,268}{\draw[lgr] (\x,623) rectangle (\x+38,665) (\x,770) rectangle (\x+38,808);}
\dr{20,818}{88,818}{88,895}
\draw[blk] (20,818)--(20,895);
\draw[hv] (88,897)--(165,897);
\draw[wfill,fill=gyA] (165,897) rectangle (822,918);
\cln{458}{895}
% room 7
\deskg{178}{990}{273}{1432}{226}{1100,1210,1320}
\deskg{418}{990}{513}{1322}{466}{1100,1210}
\deskg{645}{990}{738}{1322}{692}{1100,1210}
\deskg{878}{990}{972}{1322}{925}{1100,1210}
\deskg{1108}{990}{1203}{1322}{1156}{1100,1210}
\deskg{1108}{552}{1203}{885}{1156}{662,772}
\foreach \x in {152,300}\foreach \y in {1043,1155,1268,1378}{\chx{\x}{\y}}
\foreach \x in {392,540,618,765,852,998,1082,1230}\foreach \y in {1043,1153,1265}{\chx{\x}{\y}}
\foreach \x in {1082,1230}\foreach \y in {605,715,825}{\chx{\x}{\y}}
% room 8
\draw[thn] (935,70) rectangle (1392,125) (993,70)--(993,125);
\draw[sep] (935,102)--(1392,102);
\rtab{1075}{270}{45}{45,135,225,315}{thn}
\rtab{1315}{265}{45}{45,135,225,315}{thn}
\rtab{1205}{420}{45}{45,135,225,315}{thn}
\rtab{1405}{415}{45}{45,135,225,315}{thn}
\draw[black!85,line width=.8pt] (1457,255) rectangle (1497,300);
\draw[hv,line width=.9pt] (1525,160)--(1525,535);
\draw[blk,line width=.6pt] (1018,52)--(1018,62)--(925,62) (1065,52)--(1065,62)--(1345,62);
\cln{478}{1340}\cln{925}{1340}\cln{1330}{1340}\cln{1345}{895}\cln{925}{280}\cln{925}{895}
\end{scope}
% ---------- zone numbers
\node[ring] (z3) at (121.4,488) {3};
\node[ring] (z1) at (438,845.7) {1};
\node[ring] (z2) at (754.6,757) {2};
\node[ring] (z6) at (1116.5,879) {6};
\node[ring] (z5) at (1313,726) {5};
\node[ring] (z4) at (1579,884) {4};
\node[ring] (z7) at (2035,846) {7};
\node[ring] (z8) at (2183,529.5) {8};
% ---------- table
\foreach \kk in {0,...,9}{
 \draw[tabl] ({538+140.55*\kk},1125)--({538+140.55*\kk},{1125+133.8*9});
 \draw[tabl] (538,{1125+133.8*\kk})--({538+140.55*9},{1125+133.8*\kk});}
\foreach \kk in {1,...,8}{
 \node[hdcell] (hc\kk) at ({538+140.55*(\kk+.5)},{1125+133.8*.5}) {\kk};
 \node[hdcell] (hr\kk) at ({538+140.55*.5},{1125+133.8*(\kk+.5)}) {\kk};}
\foreach \rr/\vals in {1/{0,1,1,∞,∞,∞,∞,∞},2/{1,0,∞,∞,∞,1,∞,∞},3/{1,∞,0,∞,∞,∞,∞,∞},4/{∞,∞,∞,0,1,∞,1,∞},5/{∞,∞,∞,1,0,1,∞,∞},6/{∞,1,∞,∞,1,0,∞,∞},7/{∞,∞,∞,1,∞,∞,0,1},8/{∞,∞,∞,∞,∞,∞,1,0}}{
 \foreach \vv [count=\cc] in \vals {
  \node[valcell] (v\rr x\cc) at ({538+140.55*(\cc+.5)},{1125+133.8*(\rr+.5)}) {\vv};}}
\end{tikzpicture}
\end{document}
